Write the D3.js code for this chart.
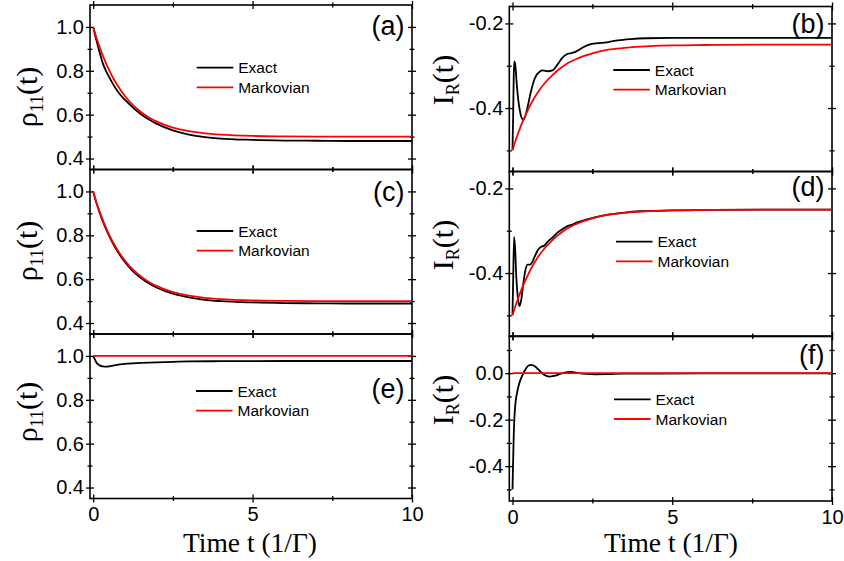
<!DOCTYPE html>
<html>
<head>
<meta charset="utf-8">
<script src="https://cdn.jsdelivr.net/npm/d3@7"></script>
<style>
body{margin:0;background:#fff}
</style>
</head>
<body>
<div id="chart"></div>
<script>
// values (time in 1/Gamma)
var tRho   = [0,0.1,0.2,0.3,0.4,0.5,0.6,0.8,1.0,1.25,1.5,1.75,2.0,2.5,3,3.5,4,5,6,7,8,10];
var markRho= [1.0,0.952,0.909,0.870,0.835,0.803,0.774,0.725,0.684,0.643,0.612,0.587,0.568,0.541,0.525,0.515,0.509,0.503,0.501,0.500,0.500,0.500];
var exactA = [1.0,0.94,0.885,0.835,0.80,0.772,0.745,0.70,0.667,0.632,0.602,0.578,0.558,0.528,0.509,0.498,0.491,0.485,0.482,0.481,0.480,0.480];
var exactC = [1.0,0.948,0.904,0.864,0.829,0.797,0.768,0.718,0.677,0.636,0.605,0.580,0.561,0.534,0.517,0.506,0.500,0.494,0.491,0.490,0.489,0.489];

var tE     = [0,0.05,0.1,0.2,0.3,0.4,0.5,0.7,1.0,1.5,2.0,2.5,3,4,6,10];
var exactE = [1.0,0.985,0.97,0.957,0.952,0.951,0.952,0.958,0.964,0.968,0.971,0.973,0.975,0.976,0.977,0.977];
var tFlat  = [0,10];
var markE  = [1.0,1.0];

var tIR    = [0,0.1,0.2,0.3,0.4,0.5,0.6,0.8,1.0,1.25,1.5,1.75,2,2.5,3,3.5,4,5,6,8,10];
var markIR = [-0.5,-0.476,-0.455,-0.435,-0.418,-0.402,-0.387,-0.362,-0.342,-0.322,-0.306,-0.293,-0.284,-0.271,-0.262,-0.258,-0.255,-0.252,-0.251,-0.250,-0.250];

var tB     = [0,0.02,0.04,0.06,0.09,0.13,0.18,0.24,0.3,0.36,0.45,0.55,0.65,0.75,0.85,0.95,1.1,1.25,1.4,1.55,1.7,1.85,2.0,2.2,2.4,2.6,2.8,3.0,3.3,3.7,4.2,5,7,10];
var exactB = [-0.5,-0.42,-0.32,-0.29,-0.30,-0.34,-0.38,-0.41,-0.425,-0.426,-0.405,-0.37,-0.34,-0.322,-0.314,-0.311,-0.313,-0.311,-0.298,-0.282,-0.273,-0.270,-0.266,-0.257,-0.250,-0.247,-0.246,-0.244,-0.240,-0.237,-0.235,-0.234,-0.234,-0.234];

var tD     = [0,0.02,0.05,0.08,0.12,0.17,0.22,0.27,0.33,0.4,0.47,0.55,0.62,0.7,0.8,0.9,1.0,1.1,1.25,1.4,1.55,1.7,1.85,2.0,2.3,2.6,3,3.5,4,5,6,8,10];
var exactD = [-0.5,-0.42,-0.315,-0.34,-0.41,-0.46,-0.478,-0.465,-0.43,-0.395,-0.38,-0.38,-0.374,-0.36,-0.345,-0.338,-0.335,-0.326,-0.316,-0.305,-0.297,-0.290,-0.286,-0.281,-0.274,-0.268,-0.262,-0.257,-0.254,-0.252,-0.251,-0.250,-0.250];

var tF     = [0,0.02,0.04,0.06,0.1,0.15,0.2,0.3,0.4,0.5,0.6,0.7,0.8,0.9,1.0,1.15,1.3,1.5,1.7,1.85,2.0,2.3,2.6,3.0,3.5,4.5,6,10];
var exactF = [-0.5,-0.38,-0.26,-0.19,-0.12,-0.08,-0.05,-0.012,0.015,0.033,0.036,0.030,0.017,0.003,-0.008,-0.015,-0.012,-0.003,0.004,0.005,0.002,-0.003,-0.005,-0.004,-0.002,-0.002,-0.001,-0.001];
var markF  = [0,0];

var xTicks = [0,5,10], xMinor = [2.5,7.5];
var rhoTicks = [0.4,0.6,0.8,1.0], rhoMinor = [0.5,0.7,0.9];
var irTicks = [-0.4,-0.2], irMinor = [-0.5,-0.3];
var ifTicks = [-0.4,-0.2,0.0], ifMinor = [-0.5,-0.3,-0.1,0.1];
var legendNames = ["Exact","Markovian"];

var W = 844, H = 561;
var colX = [[90,412],[509.3,832]];
var rowTop = [[5,169.5,334],[6.5,171.5,336]];
var rowH = [164.5,165];

var panels = [
  {lab:"(a)", col:0, row:0, ydom:[0.35,1.1], yt:rhoTicks, ym:rhoMinor, te:tRho, ex:exactA, tm:tRho, mk:markRho, leg:[106.7,62.7], labY:30, yl:97},
  {lab:"(c)", col:0, row:1, ydom:[0.35,1.1], yt:rhoTicks, ym:rhoMinor, te:tRho, ex:exactC, tm:tRho, mk:markRho, leg:[106.7,61.5], labY:31.5, yl:251},
  {lab:"(e)", col:0, row:2, ydom:[0.35,1.1], yt:rhoTicks, ym:rhoMinor, te:tE, ex:exactE, tm:tFlat, mk:markE, leg:[106,57], labY:64, yl:412},
  {lab:"(b)", col:1, row:0, ydom:[-0.55,-0.16], yt:irTicks, ym:irMinor, te:tB, ex:exactB, tm:tIR, mk:markIR, leg:[104,63.5], labY:26, yl:80},
  {lab:"(d)", col:1, row:1, ydom:[-0.55,-0.16], yt:irTicks, ym:irMinor, te:tD, ex:exactD, tm:tIR, mk:markIR, leg:[106.7,70.2], labY:24.5, yl:245},
  {lab:"(f)", col:1, row:2, ydom:[-0.55,0.16], yt:ifTicks, ym:ifMinor, te:tF, ex:exactF, tm:tFlat, mk:markF, leg:[104.7,63.3], labY:28, yl:400}
];

var svg = d3.select("#chart").append("svg")
    .attr("width", W)
    .attr("height", H);

var sans = "Liberation Sans, Arial, sans-serif";
var serif = "Liberation Serif, Times New Roman, serif";

function styleAxis(g, cross, attr){
  g.select(".domain").remove();
  g.selectAll(".tick line").attr(attr, cross).attr("stroke-width", 1.3);
  g.attr("font-family", sans).attr("font-size", 20);
  g.selectAll("text").attr("fill", "#000");
}

panels.forEach(function(p){
  var top = rowTop[p.col][p.row], h = rowH[p.col], bottom = top + h;
  var x0 = colX[p.col][0], x1 = colX[p.col][1];
  var x = d3.scaleLinear().domain([-0.1,10]).range([x0, x1]);
  var y = d3.scaleLinear().domain(p.ydom).range([bottom, top]);
  var g = svg.append("g");
  var last = p.row == 2;

  // bottom
  var b1 = g.append("g").attr("transform","translate(0,"+bottom+")")
    .call(d3.axisBottom(x).tickValues(xTicks).tickSize(4).tickPadding(4.5)
      .tickFormat(last ? function(d){return String(d);} : function(){return "";}));
  styleAxis(b1, -4, "y1");
  var b2 = g.append("g").attr("transform","translate(0,"+bottom+")")
    .call(d3.axisBottom(x).tickValues(xMinor).tickSize(2.5).tickFormat(""));
  styleAxis(b2, -2.5, "y1");
  // top
  var t1 = g.append("g").attr("transform","translate(0,"+top+")")
    .call(d3.axisTop(x).tickValues(xTicks).tickSize(4).tickFormat(""));
  styleAxis(t1, 4, "y1");
  var t2 = g.append("g").attr("transform","translate(0,"+top+")")
    .call(d3.axisTop(x).tickValues(xMinor).tickSize(2.5).tickFormat(""));
  styleAxis(t2, 2.5, "y1");
  // left
  var l1 = g.append("g").attr("transform","translate("+x0+",0)")
    .call(d3.axisLeft(y).tickValues(p.yt).tickSize(4).tickPadding(2)
      .tickFormat(function(d){return d.toFixed(1);}));
  styleAxis(l1, 4, "x1");
  var l2 = g.append("g").attr("transform","translate("+x0+",0)")
    .call(d3.axisLeft(y).tickValues(p.ym).tickSize(2.5).tickFormat(""));
  styleAxis(l2, 2.5, "x1");
  // right
  var r1 = g.append("g").attr("transform","translate("+x1+",0)")
    .call(d3.axisRight(y).tickValues(p.yt).tickSize(4).tickFormat(""));
  styleAxis(r1, -4, "x1");
  var r2 = g.append("g").attr("transform","translate("+x1+",0)")
    .call(d3.axisRight(y).tickValues(p.ym).tickSize(2.5).tickFormat(""));
  styleAxis(r2, -2.5, "x1");

  // frame
  g.append("rect")
    .attr("x", x0).attr("y", top)
    .attr("width", x1 - x0).attr("height", h)
    .attr("fill","none").attr("stroke","#000").attr("stroke-width",1.6);

  var line = d3.line()
    .x(function(d){return x(d[0]);})
    .y(function(d){return y(d[1]);})
    .curve(d3.curveMonotoneX);

  g.append("path").datum(d3.zip(p.te, p.ex))
    .attr("d", line).attr("fill","none").attr("stroke","#000").attr("stroke-width",1.8);
  g.append("path").datum(d3.zip(p.tm, p.mk))
    .attr("d", line).attr("fill","none").attr("stroke","#ff0000").attr("stroke-width",1.8);

  // legend
  var lx = x0 + p.leg[0], ly = top + p.leg[1];
  legendNames.forEach(function(name, i){
    var yy = ly + i*19.7;
    g.append("line").attr("x1", lx).attr("x2", lx + 36.6)
      .attr("y1", yy).attr("y2", yy)
      .attr("stroke", i == 0 ? "#000" : "#ff0000").attr("stroke-width", 1.8);
    g.append("text").attr("x", lx + 41.5).attr("y", yy).attr("dy","0.36em")
      .attr("font-family", sans).attr("font-size", 15.5).text(name);
  });

  // panel letter
  g.append("text").attr("x", x1 - 7.5).attr("y", top + p.labY)
    .attr("text-anchor","end").attr("font-family", sans).attr("font-size", 27)
    .text(p.lab);

  // y title
  var yt = g.append("text")
    .attr("transform","translate(" + (p.col == 0 ? 37 : 453) + "," + p.yl + ") rotate(-90)")
    .attr("text-anchor","middle").attr("font-family", serif).attr("font-size", 30);
  if (p.col == 0) {
    yt.append("tspan").text("\u03c1");
    yt.append("tspan").attr("font-size", 18).attr("dy", 6).text("11");
    yt.append("tspan").attr("dy", -6).text("(t)");
  } else {
    yt.append("tspan").text("I");
    yt.append("tspan").attr("font-size", 18).attr("dy", 6).text("R");
    yt.append("tspan").attr("dy", -6).text("(t)");
  }

  if (last) {
    g.append("text").attr("x", p.col == 0 ? 250 : 671).attr("y", 552)
      .attr("text-anchor","middle").attr("font-family", serif).attr("font-size", 27.5)
      .text("Time t (1/\u0393)");
  }
});
</script>
</body>
</html>
